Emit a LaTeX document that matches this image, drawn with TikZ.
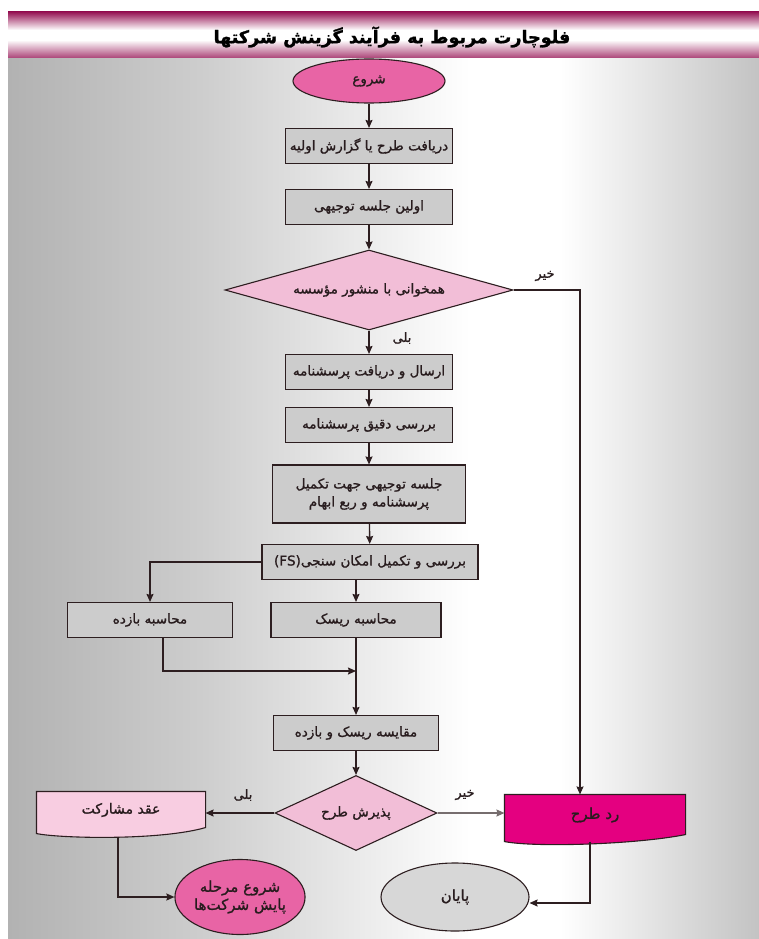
\documentclass[tikz,border=0pt]{standalone}
\usepackage{fontspec}
\usetikzlibrary{shapes.geometric,arrows.meta}
\TeXXeTstate=1
\newfontfamily\fa[Script=Arabic,FakeBold=1.2]{DejaVu Sans}
\newfontfamily\fatitle[Script=Arabic,FakeBold=1.5]{DejaVu Sans Bold}
\newcommand{\rt}[1]{\beginR #1\endR}
\definecolor{lineC}{RGB}{45,30,32}
\definecolor{boxC}{RGB}{204,204,204}
\definecolor{diamC}{RGB}{242,190,215}
\definecolor{startC}{RGB}{232,100,165}
\definecolor{endC}{RGB}{215,215,215}
\definecolor{agreeC}{RGB}{248,205,225}
\definecolor{rejectC}{RGB}{228,0,128}
\definecolor{titleMag}{RGB}{150,20,85}
\definecolor{bgL}{RGB}{178,178,178}
\definecolor{bgM}{RGB}{205,205,205}
\definecolor{bgR}{RGB}{195,195,195}
\definecolor{txtC}{RGB}{40,28,30}
\tikzset{
  base/.style={draw=lineC, line width=1.1pt, text=txtC, font=\fa\fontsize{13.5}{18}\selectfont, inner sep=2pt},
  procbox/.style={base, rectangle, fill=boxC, minimum height=35pt},
  decbox/.style={base, diamond, fill=diamC, inner sep=0pt, aspect=3.6},
  termbox/.style={base, ellipse, inner sep=0pt},
  docnode/.style={base, draw=none, rectangle},
  docshape/.style={draw=lineC, line width=1.1pt},
  arr/.style={draw=lineC, line width=1.4pt, -{Stealth[length=8pt,width=7pt,inset=1pt]}},
  lbl/.style={text=txtC, font=\fa\fontsize{13}{15}\selectfont, inner sep=1pt}
}
\begin{document}
\begin{tikzpicture}[x=1pt,y=-1pt]
\useasboundingbox (0,0) rectangle (759,939);
% background
\fill[white] (0,0) rectangle (759,939);
\shade[left color=bgL, right color=bgM] (8,55) rectangle (200,939);
\shade[left color=bgM, right color=white] (200,55) rectangle (470,939);
\fill[white] (470,55) rectangle (560,939);
\shade[left color=white, right color=bgR] (560,55) rectangle (759,939);
% title banner
\shade[top color=titleMag, bottom color=white] (8,12) rectangle (759,30);
\fill[white] (8,30) rectangle (759,40);
\shade[top color=white, bottom color=titleMag!80] (8,40) rectangle (759,58);
\node[text=black, font=\fatitle\fontsize{17.5}{22}\selectfont] (title) at (392,37) {\rt{فلوچارت مربوط به فرآیند گزینش شرکتها}};

% nodes
\node[termbox, fill=startC, minimum width=152pt, minimum height=44pt] (start) at (369,81) {\rt{شروع}};
\node[procbox, minimum width=167pt] (b1) at (369,146) {\rt{دریافت طرح یا گزارش اولیه}};
\node[procbox, minimum width=167pt] (b2) at (369,207) {\rt{اولین جلسه توجیهی}};
\node[decbox, minimum width=288pt, minimum height=80pt] (d1) at (369,290) {\rt{همخوانی با منشور مؤسسه}};
\node[procbox, minimum width=167pt] (b3) at (369,372) {\rt{ارسال و دریافت پرسشنامه}};
\node[procbox, minimum width=167pt] (b4) at (369,425) {\rt{بررسی دقیق پرسشنامه}};
\node[procbox, minimum width=193pt, minimum height=58pt, align=center] (b5) at (369,494) {\rt{جلسه توجیهی جهت تکمیل}\\\rt{پرسشنامه و ربع ابهام}};
\node[procbox, minimum width=216pt] (b6) at (370,562) {\rt{بررسی و تکمیل امکان سنجی\beginL(FS)\endL}};
\node[procbox, minimum width=165pt] (ret) at (150,620) {\rt{محاسبه بازده}};
\node[procbox, minimum width=170pt] (risk) at (356,620) {\rt{محاسبه ریسک}};
\node[procbox, minimum width=165pt] (cmp) at (356,733) {\rt{مقایسه ریسک و بازده}};
\node[decbox, minimum width=162pt, minimum height=75pt] (d2) at (356,813) {\rt{پذیرش طرح}};
\node[docnode, minimum width=168pt, minimum height=40pt] (agree) at (121,812) {};
\node[docnode, minimum width=180pt, minimum height=44pt] (rej) at (595,817) {};
\node[termbox, fill=startC, minimum width=130pt, minimum height=75pt, align=center, font=\fa\fontsize{15}{18}\selectfont] (mon) at (240,897) {\rt{شروع مرحله}\\\rt{پایش شرکت‌ها}};
\node[termbox, fill=endC, minimum width=148pt, minimum height=68pt, font=\fa\fontsize{15}{18}\selectfont] (end) at (455,897) {\rt{پایان}};

% document shapes
\path[docshape, fill=agreeC] (agree.north west) -- (agree.north east) -- ([yshift=5pt]agree.south east)
  .. controls +(-45,13) and +(25,5) .. ([yshift=-1pt]agree.south west) -- cycle;
\node[lbl, font=\fa\fontsize{14}{16}\selectfont] at ([yshift=2pt]agree.center) {\rt{عقد مشارکت}};
\path[docshape, fill=rejectC] (rej.north west) -- (rej.north east) -- ([yshift=5pt]rej.south east)
  .. controls +(-50,10) and +(30,6) .. ([yshift=-2pt]rej.south west) -- cycle;
\node[lbl, font=\fa\fontsize{15}{18}\selectfont] at ([yshift=2pt]rej.center) {\rt{رد طرح}};

% connectors
\draw[arr] (start) -- (b1);
\draw[arr] (b1) -- (b2);
\draw[arr] (b2) -- (d1);
\draw[arr] (d1) -- (b3);
\draw[arr] (b3) -- (b4);
\draw[arr] (b4) -- (b5);
\draw[arr] (b5) -- (b6);
\draw[arr] (risk.north |- b6.south) -- (risk.north);
\draw[arr] (b6.west) -| (ret.north);
\coordinate (join) at (risk.south |- 0,671);
\draw[arr] ([xshift=13pt]ret.south) |- (join);
\draw[arr] (risk) -- (cmp);
\draw[arr] (cmp) -- (d2);
\draw[arr] (d2.west) -- (d2.west -| agree.east);
\draw[arr, draw=lineC!65] (d2.east) -- (d2.east -| rej.west);
\draw[arr] (d1.east) -| ([xshift=-15pt]rej.north);
\draw[arr] ([xshift=-3pt,yshift=-4pt]agree.south) |- (mon.west);
\draw[arr] ([xshift=-5pt,yshift=-2pt]rej.south) |- ([yshift=-6pt]end.east);

% labels
\node[lbl] (l1) at (545,276) {\rt{خیر}};
\node[lbl] (l2) at (402,338) {\rt{بلی}};
\node[lbl] (l3) at (243,795) {\rt{بلی}};
\node[lbl] (l4) at (465,795) {\rt{خیر}};
\end{tikzpicture}
\end{document}
